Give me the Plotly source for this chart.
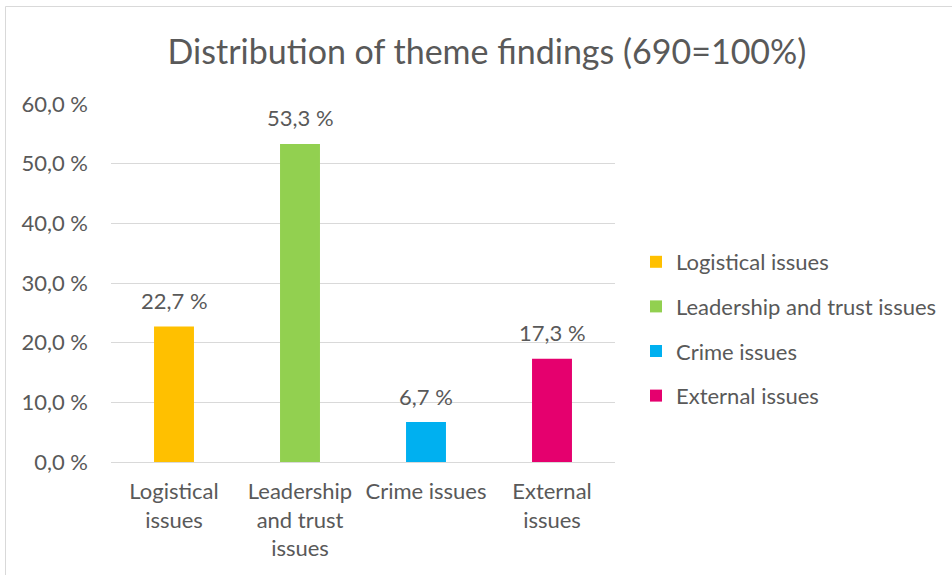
import plotly.graph_objects as go

# Chart data
categories = ["Logistical issues", "Leadership and trust issues", "Crime issues", "External issues"]
axis_labels = ["Logistical<br>issues", "Leadership<br>and trust<br>issues", "Crime issues", "External<br>issues"]
shares = [22.7, 53.3, 6.7, 17.3]
colors = ["#FFC000", "#92D050", "#00B0F0", "#E5006E"]
y_ticks = [0, 10, 20, 30, 40, 50, 60]

FONT = "Lato"
TEXT = "#595959"
GRID = "#D9D9D9"
FS = 22

W, H = 952, 575
L, R, T, B = 111, W - 615, 104, H - 462
PW, PH = W - L - R, H - T - B


def px_x(p):
    return (p - L) / PW


def px_y(p):
    return (H - B - p) / PH


def fmt(v):
    return f"{v:.1f} %".replace(".", ",")


fig = go.Figure()
for i, (cat, lab, val, col) in enumerate(zip(categories, axis_labels, shares, colors)):
    fig.add_trace(go.Bar(
        x=[lab], y=[val], name=cat,
        marker=dict(color=col, line=dict(width=0)),
        width=0.317, legendgroup=f"g{i}",
        hoverinfo="skip",
    ))
    fig.add_annotation(
        x=lab, y=val, xref="x", yref="y", text=fmt(val), showarrow=False,
        yanchor="middle", yshift=26, font=dict(family=FONT, size=FS, color=TEXT),
    )

# outer chart frame
fig.add_shape(type="rect", xref="paper", yref="paper",
              x0=px_x(5.5), x1=px_x(975), y0=px_y(600), y1=px_y(6.5),
              line=dict(color=GRID, width=1), fillcolor="rgba(0,0,0,0)", layer="below")

fig.update_layout(
    width=W, height=H,
    margin=dict(l=L, r=R, t=T, b=B, pad=0, autoexpand=False),
    paper_bgcolor="white", plot_bgcolor="white",
    barmode="overlay",
    title=dict(text="Distribution of theme findings (690=100%)",
               font=dict(family=FONT, size=34, color=TEXT),
               x=px_x(487), xanchor="center", xref="paper",
               y=1 - 52 / H, yanchor="middle", yref="container"),
    font=dict(family=FONT, size=FS, color=TEXT),
    showlegend=True,
    legend=dict(x=px_x(636), y=px_y(329), xanchor="left", yanchor="middle",
                font=dict(family=FONT, size=FS, color=TEXT),
                tracegroupgap=13, bgcolor="rgba(0,0,0,0)"),
    xaxis=dict(showgrid=False, showline=False, ticks="", zeroline=False,
               ticklabelstandoff=14,
               tickfont=dict(family=FONT, size=FS, color=TEXT),
               categoryorder="array", categoryarray=axis_labels),
    yaxis=dict(range=[0, 60], tickvals=y_ticks, ticktext=[fmt(v) for v in y_ticks],
               showgrid=True, gridcolor=GRID, gridwidth=1, zeroline=True,
               zerolinecolor=GRID, zerolinewidth=1, showline=False, ticks="",
               ticklabelstandoff=22,
               tickfont=dict(family=FONT, size=FS, color=TEXT)),
)

fig.write_html("out.html")
